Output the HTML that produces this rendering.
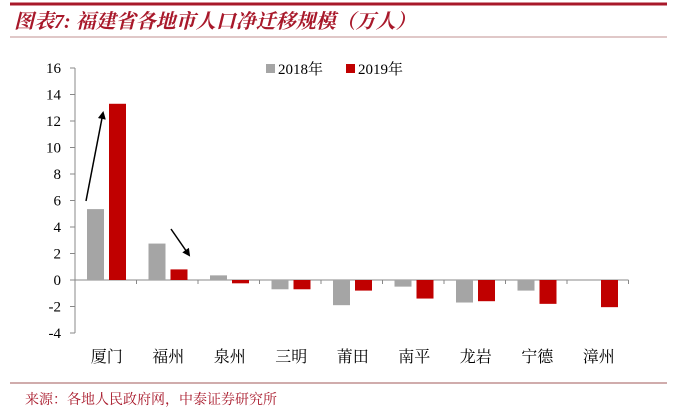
<!DOCTYPE html>
<html><head><meta charset="utf-8"><style>
body{margin:0;background:#fff;width:677px;height:411px;overflow:hidden;font-family:"Liberation Serif","Noto Serif CJK SC",serif;}
svg{display:block}
</style></head><body>
<svg id="c" width="677" height="411">
<line x1="10" y1="4" x2="667" y2="4" stroke="#a8182a" stroke-width="3"/>
<text x="14" y="28" font-size="20" font-style="italic" font-weight="bold" fill="#a8182a" font-family="'Liberation Serif','Noto Serif CJK SC',serif">图表7: 福建省各地市人口净迁移规模（万人）</text>
<line x1="10" y1="37" x2="667" y2="37" stroke="#c09090" stroke-width="1"/>
<line x1="10" y1="383" x2="667" y2="383" stroke="#c09090" stroke-width="1.5"/>
<text x="25" y="404" font-size="14" fill="#a8182a">来源：各地人民政府网，中泰证券研究所</text>
<g id="legend">
<rect x="266" y="64" width="9" height="9" fill="#a5a5a5"/>
<text x="278" y="74" font-size="15">2018年</text>
<rect x="346" y="64" width="9" height="9" fill="#c00000"/>
<text x="358" y="74" font-size="15">2019年</text>
</g>
<g id="plot"></g>
</svg>
<script>
const categories=["厦门","福州","泉州","三明","莆田","南平","龙岩","宁德","漳州"];
const values2018=[5.35,2.75,0.35,-0.7,-1.9,-0.5,-1.7,-0.8,0];
const values2019=[13.3,0.8,-0.25,-0.7,-0.8,-1.4,-1.6,-1.8,-2.05];
const yTicks=[16,14,12,10,8,6,4,2,0,-2,-4];
const NS="http://www.w3.org/2000/svg";
const g=document.getElementById('plot');
const x0=75,cw=61.5,yTop=68,yBot=333,yMax=16,yMin=-4;
function y(v){return yTop+(yMax-v)*(yBot-yTop)/(yMax-yMin);}
function xc(i){return x0+i*cw;}
function mk(t,a){const e=document.createElementNS(NS,t);for(const k in a)e.setAttribute(k,a[k]);g.appendChild(e);return e;}
let ax=mk('line',{x1:x0,y1:yTop,x2:x0,y2:yBot,stroke:'#888'});


yTicks.forEach(t=>{
 let l=mk('line',{x1:x0-5,y1:y(t),x2:x0,y2:y(t),stroke:'#888'});
 
 
 let tx=mk('text',{x:x0-14,y:y(t)+5,'font-size':15,'text-anchor':'end'});
 tx.textContent=t;
 
 
});
let xa=mk('line',{x1:x0,y1:y(0),x2:x0+categories.length*cw,y2:y(0),stroke:'#888'});


categories.forEach((c,i)=>{
 let tk=mk('line',{x1:xc(i+1),y1:y(0),x2:xc(i+1),y2:y(0)+4,stroke:'#888'});
 
 
 const bw=17;
 [[values2018[i],'#a5a5a5',12,'bar-2018'],[values2019[i],'#c00000',34,'bar-2019']].forEach(([v,col,off,nm])=>{
  if(v===0)return;
  let r=mk('rect',{x:xc(i)+off,y:Math.min(y(v),y(0)),width:bw,height:Math.abs(y(v)-y(0)),fill:col});
  
  
 });
 let lb=mk('text',{x:xc(i)+cw/2+1,y:362,'font-size':16,'text-anchor':'middle'});
 lb.textContent=c;
 
 
});
let defs=mk('defs',{});
defs.innerHTML='<marker id="ah" markerWidth="8" markerHeight="8" refX="6" refY="4" orient="auto" markerUnits="userSpaceOnUse"><path d="M0,0 L8,4 L0,8 z" fill="#000"/></marker>';
let a1=mk('line',{x1:86,y1:201,x2:103,y2:113,stroke:'#000','stroke-width':1.5,'marker-end':'url(#ah)'});


let a2=mk('line',{x1:171,y1:229,x2:189,y2:255,stroke:'#000','stroke-width':1.5,'marker-end':'url(#ah)'});


</script>
</body></html>
